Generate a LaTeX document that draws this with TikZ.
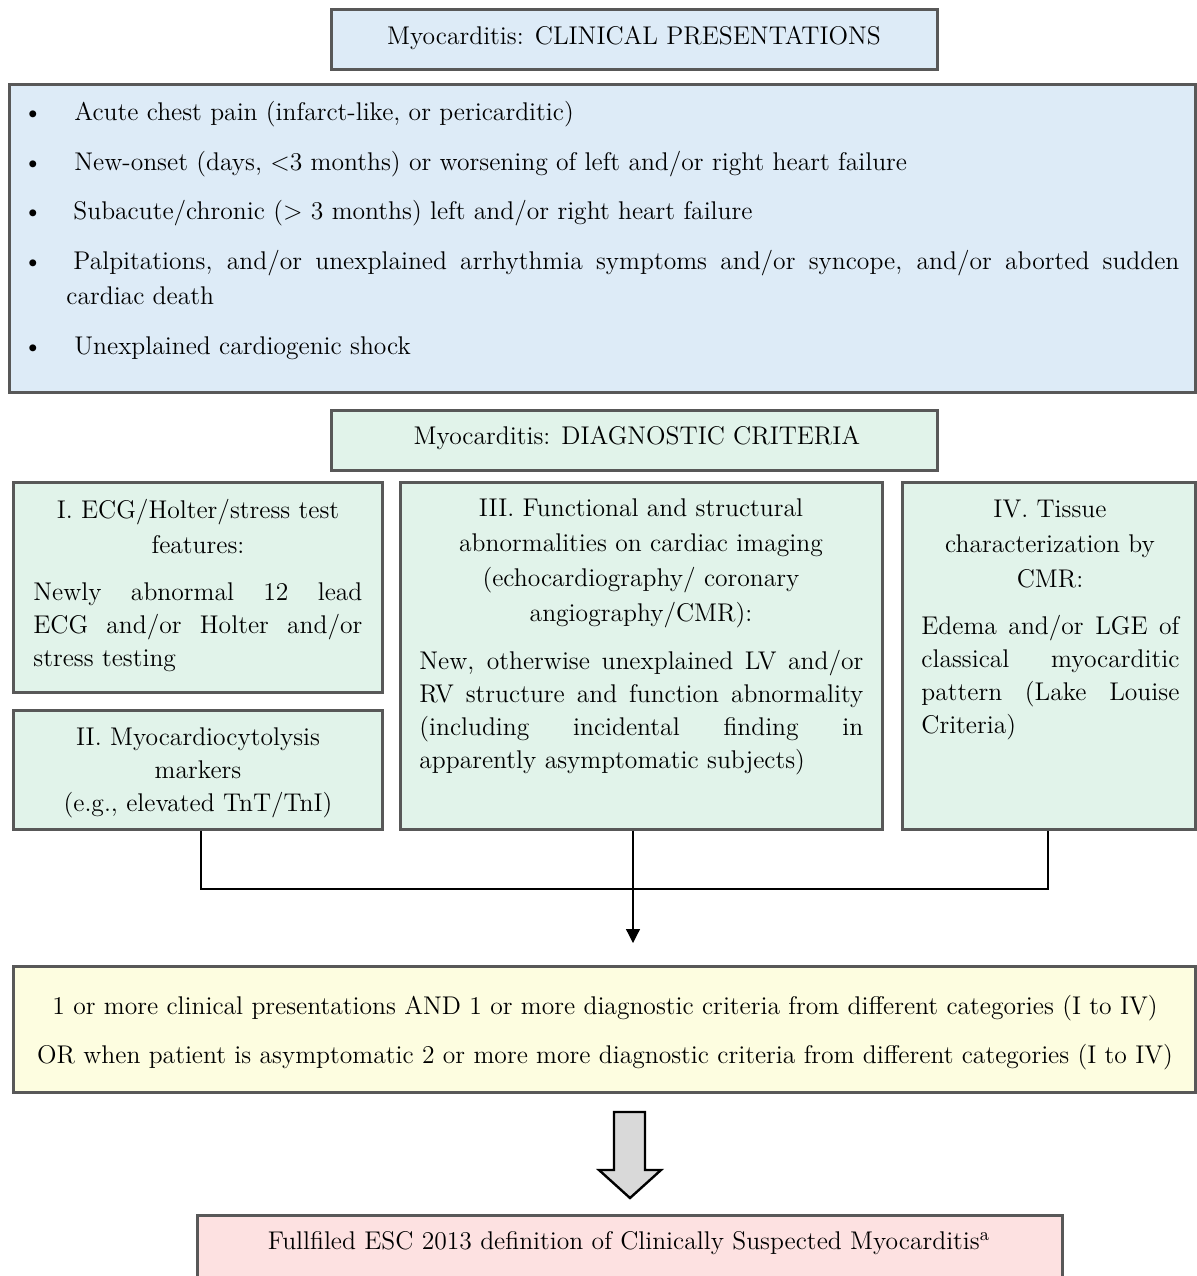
\documentclass[tikz,border=0pt]{standalone}
\usepackage{tikz}
\usetikzlibrary{arrows.meta,positioning,fit}
\definecolor{boxline}{HTML}{585858}
\definecolor{blueback}{HTML}{DDEBF7}
\definecolor{greenback}{HTML}{E1F3EA}
\definecolor{yellowback}{HTML}{FDFDE0}
\definecolor{pinkback}{HTML}{FDE1E1}
\definecolor{arrowgray}{HTML}{D9D9D9}
\newcommand{\jline}[2]{\makebox[#1][s]{#2}}

\begin{document}
\begin{tikzpicture}[x=0.5pt,y=-0.5pt,
    font=\fontsize{12.8}{16.5}\selectfont,
    frame/.style={draw=boxline, line width=1.5pt, inner sep=0pt},
    txt/.style={inner sep=0pt, anchor=base},
    head/.style={txt, align=center, font=\fontsize{12.8}{17.5}\selectfont},
    body/.style={txt, anchor=base west, align=left, font=\fontsize{12.8}{16.5}\selectfont}]
      \useasboundingbox (0,0) rectangle (1196,1276);
      \node[frame, fill=blueback, fit={(331,9)(937,69)}] (clinhead) {};
      \node[txt] at (634,44) (clinheadtxt) {Myocarditis: CLINICAL PRESENTATIONS};
      \node[frame, fill=blueback, fit={(9,84)(1195,392)}] (clinbox) {};
      \foreach \yy in {120,170,219,269,354}
        \node[txt] at (33,\yy) {\textbullet};
      \node[txt, anchor=base west] at (74,120) (pres1) {Acute chest pain (infarct-like, or pericarditic)};
      \node[txt, anchor=base west] at (74,170) (pres2) {New-onset (days, <3 months) or worsening of left and/or right heart failure};
      \node[txt, anchor=base west] at (73,219) (pres3) {Subacute/chronic (> 3 months) left and/or right heart failure};
      \node[body, font=\fontsize{12.8}{17.5}\selectfont] at (66,304) (pres4) {\hspace*{3.5pt}\jline{553pt}{Palpitations, and/or unexplained arrhythmia symptoms and/or syncope, and/or aborted sudden}\\cardiac death};
      \node[txt, anchor=base west] at (74,354) (pres5) {Unexplained cardiogenic shock};

      \node[frame, fill=greenback, fit={(331,410)(937,470)}] (diaghead) {};
      \node[txt] at (637,444) (diagheadtxt) {Myocarditis: DIAGNOSTIC CRITERIA};

      \node[frame, fill=greenback, fit={(13,482)(382,692)}] (critI) {};
      \node[head] at (198,553) (critIhead) {I. ECG/Holter/stress test\\features:};
      \node[body] at (33,666) (critIbody) {\jline{164.5pt}{Newly abnormal 12 lead}\\\jline{164.5pt}{ECG and/or Holter and/or}\\stress testing};

      \node[frame, fill=greenback, fit={(13,710)(382,829)}] (critII) {};
      \node[head, font=\fontsize{12.8}{16.5}\selectfont] at (198,811) (critIIhead) {II. Myocardiocytolysis\\markers\\(e.g., elevated TnT/TnI)};

      \node[frame, fill=greenback, fit={(400,482)(882,829)}] (critIII) {};
      \node[head] at (641,621) (critIIIhead) {III. Functional and structural\\abnormalities on cardiac imaging\\(echocardiography/ coronary\\angiography/CMR):};
      \node[body] at (419,768) (critIIIbody) {\jline{222pt}{New, otherwise unexplained LV and/or}\\\jline{222pt}{RV structure and function abnormality}\\\jline{222pt}{(including incidental finding in}\\apparently asymptomatic subjects)};

      \node[frame, fill=greenback, fit={(902,482)(1195,829)}] (critIV) {};
      \node[head] at (1050,587) (critIVhead) {IV. Tissue\\characterization by\\CMR:};
      \node[body] at (921,733) (critIVbody) {\jline{129pt}{Edema and/or LGE of}\\\jline{129pt}{classical myocarditic}\\\jline{129pt}{pattern (Lake Louise}\\Criteria)};

      \coordinate (join) at (633,889);
      \coordinate (tip) at (633,943);
      \draw[line width=0.6pt] (critII.south -| 201,0) |- (join) -| (critIV.south -| 1048,0);
      \draw[line width=0.6pt, -{Triangle[length=7pt,width=7pt]}] (critIII.south -| tip) -- (tip);

      \node[frame, fill=yellowback, fit={(13,966)(1195,1092)}] (combo) {};
      \node[txt] at (605,1014) (combo1) {1 or more clinical presentations AND 1 or more diagnostic criteria from different categories (I to IV)};
      \node[txt] at (605,1063) (combo2) {OR when patient is asymptomatic 2 or more more diagnostic criteria from different categories (I to IV)};

      \draw[line width=1.2pt, fill=arrowgray] (614,1112) -- (645,1112) -- (645,1170) -- (661,1170)
        -- (630,1198) -- (599,1170) -- (614,1170) -- cycle;

      \node[frame, fill=pinkback, fit={(197,1215)(1062,1290)}] (result) {};
      \node[txt] at (629,1249) (resulttxt) {Fullfiled ESC 2013 definition of Clinically Suspected Myocarditis\textsuperscript{a}};
\end{tikzpicture}
\end{document}
